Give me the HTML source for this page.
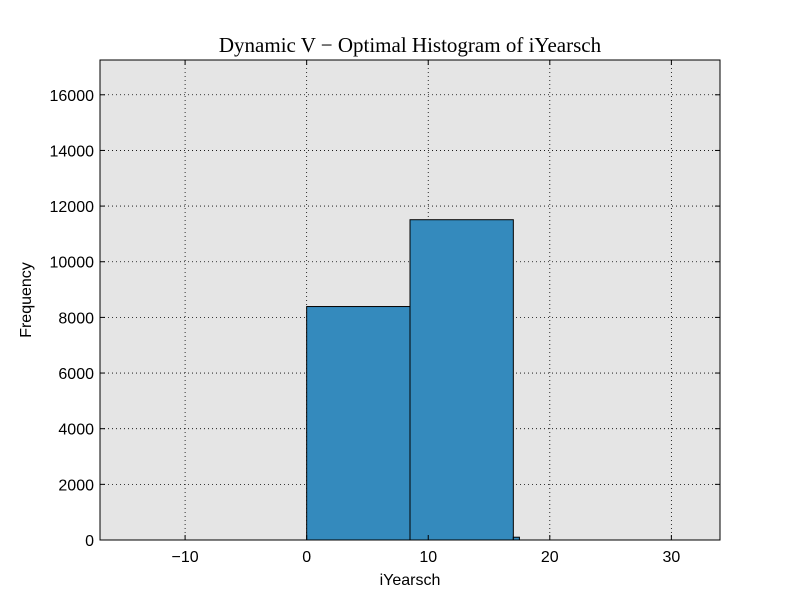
<!DOCTYPE html>
<html><head><meta charset="utf-8"><style>
body{margin:0;background:#fff;}
text{font-family:"Liberation Sans",sans-serif;}
</style></head><body>
<svg id="chart" width="800" height="600">
<rect x="0" y="0" width="800" height="600" fill="#fff"/>
<rect x="100" y="60" width="620" height="480" fill="#e5e5e5"/>
<g id="grid"></g>
<g id="bars"></g>
<rect x="100" y="60" width="620" height="480" fill="none" stroke="#000" stroke-width="1"/>
<g id="ticks"></g>
<text x="410" y="52" text-anchor="middle" font-size="21" style="font-family:'Liberation Serif',serif">Dynamic V − Optimal Histogram of iYearsch</text>
<text x="410" y="585" text-anchor="middle" font-size="16">iYearsch</text>
<text x="31" y="300" text-anchor="middle" font-size="16" transform="rotate(-90 31 300)">Frequency</text>
</svg>
<script>
const binEdges=[0,8.5,17,17.5];
const counts=[8390,11510,100];
const xTicks=[-10,0,10,20,30];
const yTicks=[0,2000,4000,6000,8000,10000,12000,14000,16000];
const X0=100,X1=720,Y0=540,Y1=60,xmin=-17,xmax=34,ymax=17250;
const ns="http://www.w3.org/2000/svg";
function sx(v){return X0+(v-xmin)/(xmax-xmin)*(X1-X0);}
function sy(v){return Y0-v/ymax*(Y0-Y1);}
function mk(t,a,p){const e=document.createElementNS(ns,t);for(const k in a)e.setAttribute(k,a[k]);p.appendChild(e);return e;}
const grid=document.getElementById('grid'),bars=document.getElementById('bars'),ticks=document.getElementById('ticks');
xTicks.forEach(v=>{const x=sx(v);
const g=mk('line',{x1:x,x2:x,y1:Y1,y2:Y0,stroke:'#000','stroke-dasharray':'1,3','stroke-width':0.8},grid);


mk('line',{x1:x,x2:x,y1:Y0,y2:Y0-5,stroke:'#000'},ticks);
mk('line',{x1:x,x2:x,y1:Y1,y2:Y1+5,stroke:'#000'},ticks);
const t=mk('text',{x:x,y:Y0+22,'text-anchor':'middle','font-size':16},ticks);
t.textContent=v<0?'−'+Math.abs(v):v;

});
yTicks.forEach(v=>{const y=sy(v);
const g=mk('line',{x1:X0,x2:X1,y1:y,y2:y,stroke:'#000','stroke-dasharray':'1,3','stroke-width':0.8},grid);


mk('line',{x1:X0,x2:X0+5,y1:y,y2:y,stroke:'#000'},ticks);
mk('line',{x1:X1,x2:X1-5,y1:y,y2:y,stroke:'#000'},ticks);
const t=mk('text',{x:X0-6,y:y+6,'text-anchor':'end','font-size':16},ticks);
t.textContent=v;

});
counts.forEach((c,i)=>{const x=sx(binEdges[i]),w=sx(binEdges[i+1])-x,y=sy(c);
const r=mk('rect',{x:x,y:y,width:w,height:Y0-y,fill:'#348abd',stroke:'#000','stroke-width':1},bars);

});
</script>
</body></html>
